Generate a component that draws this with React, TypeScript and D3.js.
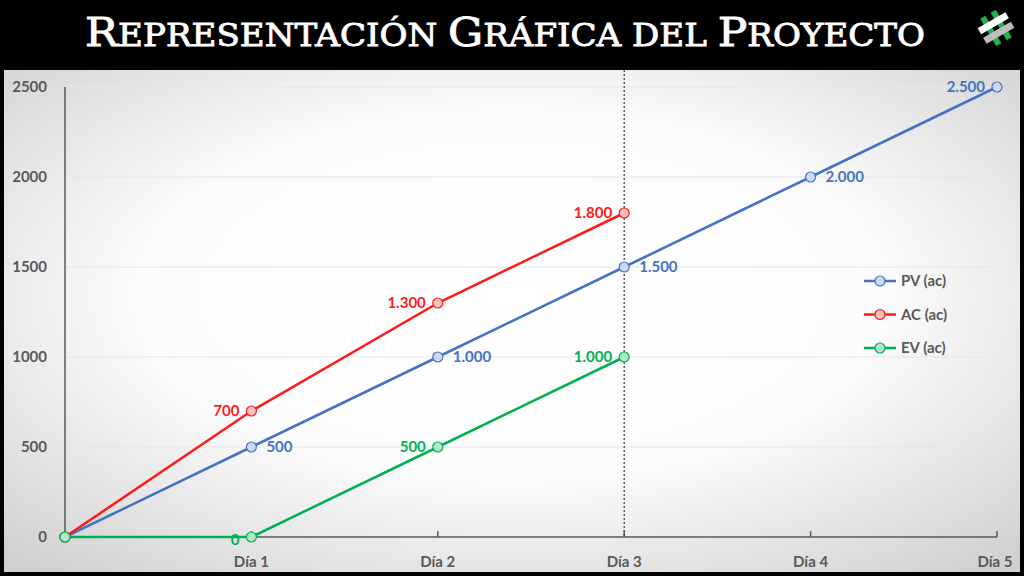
import React from 'react'
import * as d3 from 'd3'

const days = ['', 'Día 1', 'Día 2', 'Día 3', 'Día 4', 'Día 5']
const yTicks = [0, 500, 1000, 1500, 2000, 2500]
const pvValues = [0, 500, 1000, 1500, 2000, 2500]
const acValues = [0, 700, 1300, 1800]
const evValues = [0, 0, 500, 1000]
const seriesNames = ['PV (ac)', 'AC (ac)', 'EV (ac)']
const titleWords = ['Representación', 'Gráfica', 'del', 'Proyecto']
const cutDay = 3

type Series = {
    name: string,
    values: number[],
    color: string,
    fill: string,
    labelSide: 'left' | 'right',
}

const series: Series[] = [
    { name: seriesNames[0], values: pvValues, color: '#4472C4', fill: '#cfdaf0', labelSide: 'right' },
    { name: seriesNames[1], values: acValues, color: '#FF1A1A', fill: '#ffc0c0', labelSide: 'left' },
    { name: seriesNames[2], values: evValues, color: '#00B050', fill: '#b2e6c7', labelSide: 'left' },
]

const W = 1024
const H = 576
const font = 'Lato, "Open Sans", sans-serif'
const labelGrey = '#595959'
const fs = 15

const fmt = (v: number) => d3.format(',')(v).replace(/,/g, '.')

const App = () => {
    const x = d3.scaleLinear().domain([0, days.length - 1]).range([65, 997])
    const y = d3.scaleLinear().domain([0, 2500]).range([537, 87])

    const line = d3.line<number>()
        .x((_, i) => x(i))
        .y(d => y(d))

    return (
        <svg width={W} height={H} style={{ position: 'fixed', left: 0, top: 0 }}>
            <defs>
                <radialGradient id="bg" cx="50%" cy="45%" r="72%">
                    <stop offset="0%" stopColor="#ffffff" />
                    <stop offset="50%" stopColor="#fcfcfc" />
                    <stop offset="100%" stopColor="#d0d0d0" />
                </radialGradient>
            </defs>
            <rect width={W} height={H} fill="#000" />
            <rect x={4} y={70} width={1016} height={502} fill="url(#bg)" />

            {/* title, drawn as small caps */}
            <text
                x={505} y={46}
                textAnchor="middle"
                fill="#fff"
                stroke="#fff"
                strokeWidth={0.9}
                style={{ fontFamily: "'DejaVu Serif', serif" }}
                textLength={840}
                lengthAdjust="spacingAndGlyphs"
            >
                {titleWords.map((w, i) => {
                    const big = w[0] === w[0].toUpperCase()
                    return (
                        <React.Fragment key={w}>
                            {big && <tspan fontSize={40}>{w[0]}</tspan>}
                            <tspan fontSize={31}>{(big ? w.slice(1) : w).toUpperCase() + (i < titleWords.length - 1 ? ' ' : '')}</tspan>
                        </React.Fragment>
                    )
                })}
            </text>

            {/* logo */}
            <g transform="translate(996, 28) rotate(-30)">
                <rect x={-9} y={-16} width={6} height={32} fill="#22b14c" />
                <rect x={3} y={-16} width={6} height={32} fill="#22b14c" />
                <rect x={-16} y={-9} width={32} height={7} fill="#ffffff" />
                <rect x={-16} y={2} width={32} height={7} fill="#bdbdbd" />
            </g>

            {/* grid */}
            {yTicks.filter(t => t > 0).map(t => (
                <line key={t} x1={x(0)} x2={x(5)} y1={y(t)} y2={y(t)} stroke="#e6e6e6" strokeWidth={1} />
            ))}

            {/* axes */}
            <line x1={x(0)} x2={x(0)} y1={y(2500)} y2={y(0)} stroke="#595959" strokeWidth={1.5} />
            <line x1={x(0)} x2={x(5)} y1={y(0)} y2={y(0)} stroke="#595959" strokeWidth={1.5} />
            {days.map((d, i) => i > 0 && (
                <line key={d} x1={x(i)} x2={x(i)} y1={y(0) - 6} y2={y(0)} stroke="#595959" strokeWidth={1.5} />
            ))}
            {yTicks.map(t => (
                <text key={t} x={47} y={y(t) + 5} textAnchor="end" fill={labelGrey}
                    fontFamily={font} fontWeight="bold" fontSize={fs}>{t}</text>
            ))}
            {days.map((d, i) => (
                <text key={i} x={i === days.length - 1 ? x(i) - 2 : x(i)} y={567} textAnchor="middle" fill={labelGrey}
                    fontFamily={font} fontWeight="bold" fontSize={fs}>{d}</text>
            ))}

            {/* cut-off line */}
            <line x1={x(cutDay)} x2={x(cutDay)} y1={70} y2={y(0)} stroke="#333" strokeWidth={1.2} strokeDasharray="2,2" />

            {/* series */}
            {series.map(s => (
                <g key={s.name}>
                    <path d={line(s.values)!} fill="none" stroke={s.color} strokeWidth={2.5} />
                    {s.values.map((v, i) => (
                        <circle key={i} cx={x(i)} cy={y(v)} r={5} fill={s.fill} stroke={s.color} strokeWidth={1.2} />
                    ))}
                    {s.values.map((v, i) => {
                        if (i === 0) return null
                        const last = i === days.length - 1
                        const side = last ? 'left' : s.labelSide
                        return (
                            <text key={'l' + i}
                                x={x(i) + (side === 'right' ? 15 : -12)}
                                y={y(v) + 5 + (v === 0 ? 3 : 0)}
                                textAnchor={side === 'right' ? 'start' : 'end'}
                                fill={s.color} fontFamily={font} fontWeight="bold" fontSize={fs}
                            >{fmt(v)}</text>
                        )
                    })}
                </g>
            ))}

            {/* legend */}
            {series.map((s, i) => (
                <g key={'lg' + s.name} transform={`translate(864, ${281 + i * 33.5})`}>
                    <line x1={0} x2={32} y1={0} y2={0} stroke={s.color} strokeWidth={2.5} />
                    <circle cx={16} cy={0} r={5} fill={s.fill} stroke={s.color} strokeWidth={1.2} />
                    <text x={37} y={5} fill={labelGrey} fontFamily={font} fontWeight="bold" fontSize={fs}>{s.name}</text>
                </g>
            ))}
        </svg>
    )
}

export default App
